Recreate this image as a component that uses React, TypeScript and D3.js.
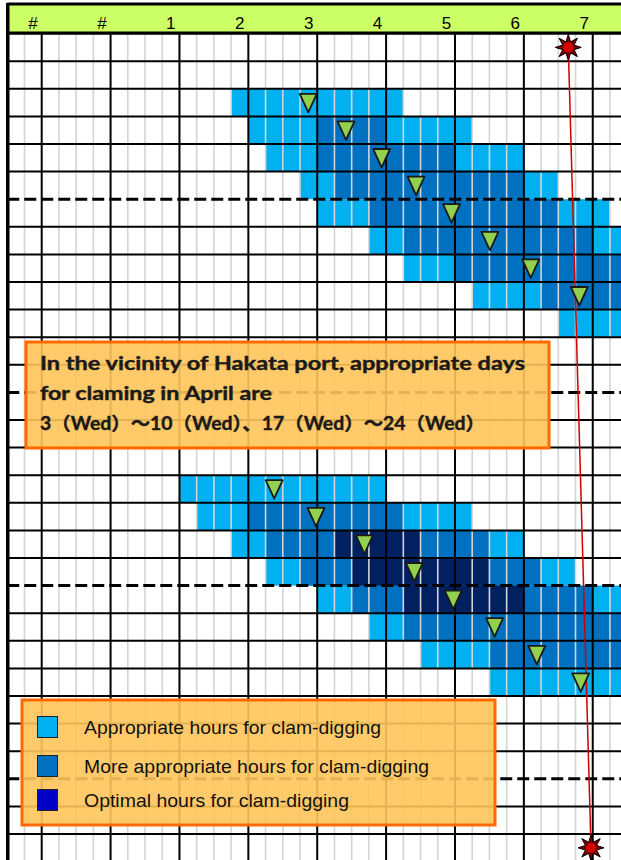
import { range, scaleBand, scaleLinear, line, curveLinearClosed } from 'd3';

const W = 621;
const H = 860;

// rows are days of April, columns are time slots (4 per hour)
const days = range(1, 31);
const slots = range(0, 37);
const hourLabels = ['#', '#', '1', '2', '3', '4', '5', '6', '7'];
const weekStarts = [7, 14, 21, 28];

// [day, from slot, to slot)
const appropriate = [
  [3, 13, 23], [4, 14, 27], [5, 15, 30], [6, 17, 32], [7, 18, 35],
  [8, 21, 36], [9, 23, 36], [10, 27, 36], [11, 32, 36],
  [17, 10, 22], [18, 11, 27], [19, 13, 30], [20, 15, 33], [21, 18, 36],
  [22, 21, 36], [23, 24, 36], [24, 28, 36],
];
const moreAppropriate = [
  [4, 18, 22], [5, 18, 26], [6, 19, 30], [7, 21, 32], [8, 23, 34],
  [9, 26, 36], [10, 31, 36],
  [18, 14, 23], [19, 15, 28], [20, 17, 31], [21, 20, 34], [22, 23, 36], [23, 28, 36],
];
const optimal = [[19, 19, 24], [20, 20, 28], [21, 23, 30]];

// low tide, [day, slot]
const lowTide = [
  [3, 17.48], [4, 19.67], [5, 21.74], [6, 23.74], [7, 25.8], [8, 28.03], [9, 30.4], [10, 33.22],
  [17, 15.5], [18, 17.93], [19, 20.74], [20, 23.64], [21, 25.9], [22, 28.3], [23, 30.75], [24, 33.3],
];

// red time line, [day, slot]
const sunLine = [[1, 32.58], [30, 33.9]];

const legendItems = [
  { label: 'Appropriate hours for clam-digging', color: '#00b0f0', len: 297 },
  { label: 'More appropriate hours for clam-digging', color: '#0070c0', len: 345 },
  { label: 'Optimal hours for clam-digging', color: '#0000c8', len: 265 },
];

const noteLines = [
  { text: 'In the vicinity of Hakata port,  appropriate days', len: 485 },
  { text: 'for claming in April are', len: 232 },
  { text: '3（Wed）～10（Wed）、17（Wed）～24（Wed）', len: 445 },
];

const x = scaleLinear().domain([0, 36]).range([7.26, 7.26 + 36 * 17.22]);
const y = scaleBand<number>().domain(days).range([33.6, 33.6 + 30 * 27.6]).padding(0);
const rowH = y.bandwidth();

const starPath = (cx: number, cy: number, ro: number, ri: number) => {
  const pts = range(16).map((i) => {
    const a = (i * Math.PI) / 8 - Math.PI / 2;
    const r = i % 2 === 0 ? ro : ri;
    return [cx + r * Math.cos(a), cy + r * Math.sin(a)] as [number, number];
  });
  return line().curve(curveLinearClosed)(pts) || '';
};

const Cells = ({ data, fill }: { data: number[][]; fill: string }) => (
  <g>
    {data.map(([d, a, b]) => (
      <rect key={d} x={x(a)} y={y(d)} width={x(b) - x(a)} height={rowH} fill={fill} />
    ))}
  </g>
);

const Star = ({ cx, cy }: { cx: number; cy: number }) => (
  <g>
    <path d={starPath(cx, cy, 13, 6)} fill="#7a0000" stroke="#000" strokeWidth={1} />
    <circle cx={cx} cy={cy} r={5.5} fill="#d40000" stroke="#600" strokeWidth={0.8} />
  </g>
);

export default function App() {
  const gridTop = y(1) as number;
  const first = sunLine[0];
  const last = sunLine[sunLine.length - 1];
  return (
    <svg width={W} height={H} style={{ position: 'absolute', left: 0, top: 0, background: '#fff' }}>
      {/* header */}
      <rect x={x(0)} y={3} width={W} height={gridTop - 3} fill="#ccff66" />
      {hourLabels.map((t, i) => (
        <text
          key={i}
          x={x(1.5 + i * 4)}
          y={29}
          textAnchor="middle"
          fontFamily="'Liberation Sans', Arial, sans-serif"
          fontSize={17}
          fill="#000"
        >
          {t}
        </text>
      ))}

      {/* tide cells */}
      <Cells data={appropriate} fill="#00b0f0" />
      <Cells data={moreAppropriate} fill="#0070c0" />
      <Cells data={optimal} fill="#002060" />

      {/* minor slot lines */}
      {slots
        .filter((s) => (s - 2) % 4 !== 0)
        .map((s) => (
          <line key={s} x1={x(s)} x2={x(s)} y1={gridTop} y2={H} stroke="#d4d4d4" strokeWidth={1.6} />
        ))}
      {/* hour lines */}
      {slots
        .filter((s) => (s - 2) % 4 === 0)
        .map((s) => (
          <line key={s} x1={x(s)} x2={x(s)} y1={gridTop} y2={H} stroke="#000" strokeWidth={2} />
        ))}
      {/* day lines */}
      {days.map((d) =>
        weekStarts.includes(d) ? (
          <line
            key={d}
            x1={x(0)}
            x2={W}
            y1={y(d)}
            y2={y(d)}
            stroke="#000"
            strokeWidth={3}
            strokeDasharray="12,5"
          />
        ) : (
          <line key={d} x1={x(0)} x2={W} y1={y(d)} y2={y(d)} stroke="#000" strokeWidth={2} />
        )
      )}
      <line x1={x(0)} x2={W} y1={gridTop - 0.5} y2={gridTop - 0.5} stroke="#000" strokeWidth={3} />
      <line x1={x(0)} x2={W} y1={4} y2={4} stroke="#000" strokeWidth={3} />
      <line x1={x(0) + 0.5} x2={x(0) + 0.5} y1={3} y2={H} stroke="#000" strokeWidth={3.5} />

      {/* red time line */}
      <line
        x1={x(first[1])}
        y1={(y(first[0]) as number) + rowH / 2}
        x2={x(last[1])}
        y2={(y(last[0]) as number) + rowH / 2}
        stroke="#d00000"
        strokeWidth={1.5}
      />
      <Star cx={x(first[1])} cy={(y(first[0]) as number) + rowH / 2} />
      <Star cx={x(last[1])} cy={(y(last[0]) as number) + rowH / 2} />

      {/* low tide markers */}
      {lowTide.map(([d, s]) => {
        const cx = x(s);
        const top = (y(d) as number) + 5;
        return (
          <path
            key={d}
            d={`M${cx - 8.5},${top}L${cx + 8.5},${top}L${cx},${top + 18.5}Z`}
            fill="#92d050"
            stroke="#1a1a1a"
            strokeWidth={1.8}
            strokeLinejoin="round"
          />
        );
      })}

      {/* note box */}
      <rect x={26} y={342} width={523} height={106} fill="#ffc55a" fillOpacity={0.9} stroke="#ff6a00" strokeWidth={3} />
      {noteLines.map((l, i) => (
        <text
          key={i}
          x={40}
          y={370 + i * 30}
          fontFamily="Lato, 'Noto Sans CJK JP', sans-serif"
          fontWeight={700}
          fontSize={18}
          fill="#1a1a1a"
          stroke="#1a1a1a"
          strokeWidth={0.4}
          textLength={l.len}
          lengthAdjust="spacingAndGlyphs"
        >
          {l.text}
        </text>
      ))}

      {/* legend box */}
      <rect x={22} y={700} width={473} height={125} fill="#ffc55a" fillOpacity={0.9} stroke="#ff6a00" strokeWidth={3} />
      {legendItems.map((it, i) => {
        const cy = [727, 766, 800][i];
        return (
          <g key={it.label}>
            <rect x={37.5} y={cy - 10.5} width={20} height={21} fill={it.color} stroke="#222" strokeWidth={1} />
            <text
              x={84}
              y={cy + 7}
              fontFamily="'Liberation Sans', Arial, sans-serif"
              fontSize={19}
              fill="#111"
              textLength={it.len}
              lengthAdjust="spacingAndGlyphs"
            >
              {it.label}
            </text>
          </g>
        );
      })}
    </svg>
  );
}
